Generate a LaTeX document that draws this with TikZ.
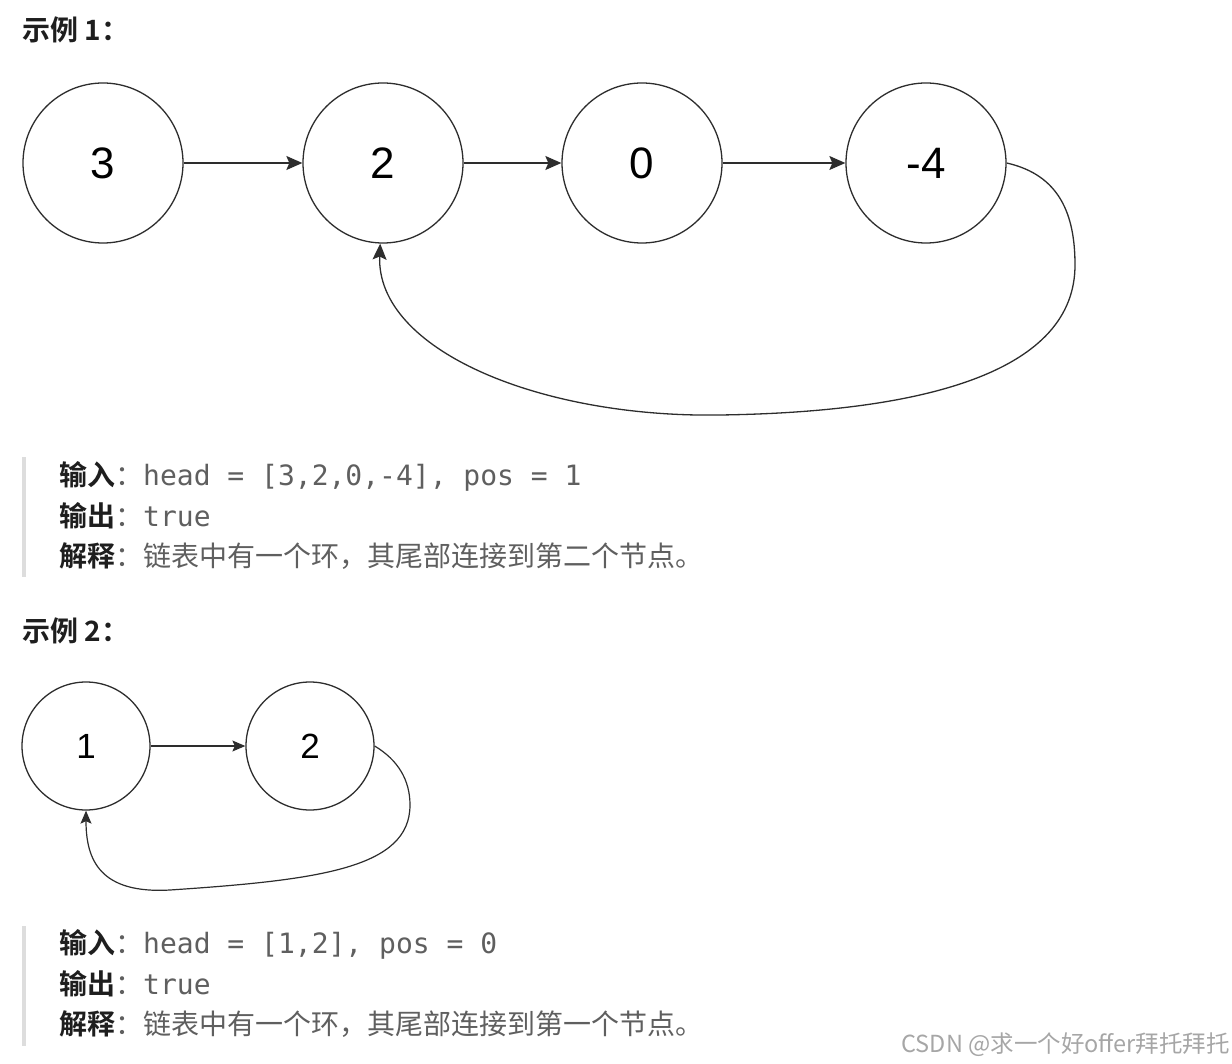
\documentclass[tikz,border=0pt]{standalone}
\usepackage{fontspec}
\setmainfont{Liberation Sans}
\newfontfamily\cjk{Noto Sans CJK SC}[BoldFont={Noto Sans CJK SC Bold}]
\newfontfamily\codefont{DejaVu Sans Mono}
\usepackage{xcolor}
\definecolor{ringgray}{RGB}{45, 45, 45}
\definecolor{codegray}{RGB}{95, 95, 95}
\definecolor{labelblack}{RGB}{30, 30, 30}
\definecolor{quotebar}{RGB}{221, 221, 221}
\usepackage{tikz}
\usetikzlibrary{
  arrows.meta,
  positioning
}

\begin{document}
\begin{tikzpicture}[x=1pt, y=-1pt,
  bignode/.style={circle, draw=ringgray, line width=1.3pt, minimum size=160pt, inner sep=0pt, font=\fontsize{44}{44}\selectfont},
  smallnode/.style={circle, draw=ringgray, line width=1.3pt, minimum size=128pt, inner sep=0pt, font=\fontsize{35}{35}\selectfont},
  link/.style={draw=ringgray, line width=1.3pt, -{Stealth[length=16pt, width=14pt, inset=3pt]}},
  smalllink/.style={draw=ringgray, line width=1.2pt, -{Stealth[length=13pt, width=11pt, inset=2.5pt]}},
  heading/.style={anchor=west, inner sep=0pt, text=labelblack, font=\cjk\bfseries\fontsize{28}{32}\selectfont},
  infoline/.style={anchor=west, inner sep=0pt, text=codegray, font=\fontsize{28}{32}\selectfont}
]
  \useasboundingbox (0,0) rectangle (1232,1064);

  % example 1
  \node[heading] (title1) at (22,30) {示例 1：};

  \node[bignode] (a3) at (103,163) {3};
  \node[bignode] (a2) at (383,163) {2};
  \node[bignode] (a0) at (642,163) {0};
  \node[bignode] (a4) at (926,163) {-4};

  \draw[link] (a3) -- (a2);
  \draw[link] (a2) -- (a0);
  \draw[link] (a0) -- (a4);
  % tail back to the second node
  \draw[link] (a4.east) .. controls (1060,175) and (1075,215) .. (1075,265)
    .. controls (1075,370) and (930,412) .. (720,415)
    .. controls (540,418) and (376,350) .. (a2.-92);

  \fill[quotebar] (22,457) rectangle (26,577);
  \node[infoline] (in1) at (59,476) {{\cjk\bfseries\color{labelblack}输入}{\cjk ：}{\codefont head = [3,2,0,-4], pos = 1}};
  \node[infoline] (out1) at (59,516) {{\cjk\bfseries\color{labelblack}输出}{\cjk ：}{\codefont true}};
  \node[infoline] (why1) at (59,556) {{\cjk\bfseries\color{labelblack}解释}{\cjk ：链表中有一个环，其尾部连接到第二个节点。}};

  % example 2
  \node[heading] (title2) at (22,631) {示例 2：};

  \node[smallnode] (b1) at (86,746) {1};
  \node[smallnode] (b2) at (310,746) {2};

  \draw[smalllink] (b1) -- (b2);
  \draw[smalllink] (b2.east) .. controls (398,760) and (410,780) .. (410,805)
    .. controls (410,868) and (320,880) .. (170,890)
    .. controls (100,894) and (86,860) .. (b1.south);

  \fill[quotebar] (22,926) rectangle (26,1046);
  \node[infoline] (in2) at (59,944) {{\cjk\bfseries\color{labelblack}输入}{\cjk ：}{\codefont head = [1,2], pos = 0}};
  \node[infoline] (out2) at (59,984) {{\cjk\bfseries\color{labelblack}输出}{\cjk ：}{\codefont true}};
  \node[infoline] (why2) at (59,1024) {{\cjk\bfseries\color{labelblack}解释}{\cjk ：链表中有一个环，其尾部连接到第一个节点。}};

  \node[anchor=east, inner sep=0pt, text=black!35, font=\cjk\fontsize{23.5}{27}\selectfont] (mark) at (1230,1045) {CSDN @求一个好offer拜托拜托};

\end{tikzpicture}
\end{document}
